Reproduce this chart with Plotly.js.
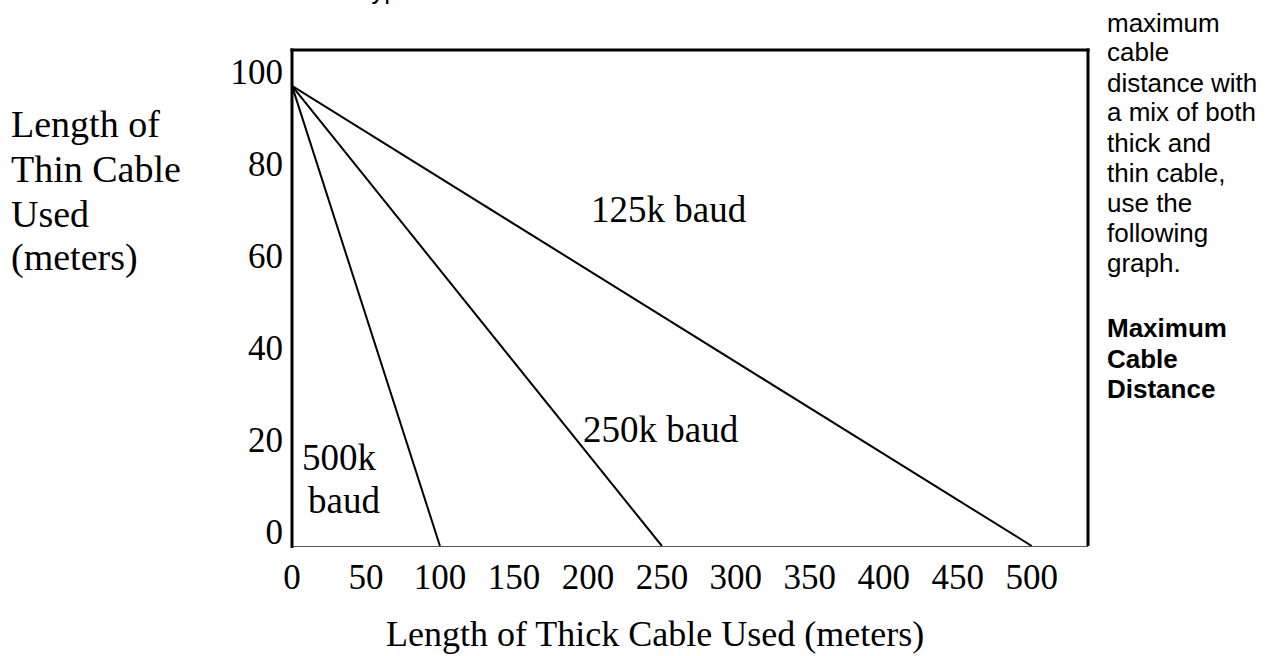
<!DOCTYPE html>
<html>
<head>
<meta charset="utf-8">
<script src="https://cdn.plot.ly/plotly-3.0.1.min.js"></script>
<style>
  html, body { margin: 0; padding: 0; background: #fff; }
  #chart { width: 1276px; height: 656px; }
</style>
</head>
<body>
<div id="chart"></div>
<script>
// ---- data ----
const baudRates = ['500k baud', '250k baud', '125k baud'];
const maxThickOnly = [100, 250, 500];   // thick cable length (m) when no thin cable is used
const maxThinOnly = [100, 100, 100];    // thin cable length (m) when no thick cable is used
const xTickValues = [0, 50, 100, 150, 200, 250, 300, 350, 400, 450, 500];
const yTickValues = [0, 20, 40, 60, 80, 100];
const yTitleLines = ['Length of', 'Thin Cable', 'Used', '(meters)'];
const xTitle = 'Length of Thick Cable Used (meters)';
const sideNoteLines = ['maximum', 'cable', 'distance with', 'a mix of both', 'thick and', 'thin cable,', 'use the', 'following', 'graph.'];
const sideHeadingLines = ['Maximum', 'Cable', 'Distance'];

// ---- layout geometry (pixels) ----
const W = 1276, H = 656;
const L = 292, R = 1088, T = 50, B = 546;
const PW = R - L, PH = B - T;
const px = x => (x - L) / PW;
const py = y => (B - y) / PH;

const serif = 'Liberation Serif, Times New Roman, serif';
const sans = 'Liberation Sans, Arial, sans-serif';

const traces = baudRates.map((name, i) => ({
  type: 'scatter',
  mode: 'lines',
  name: name,
  x: [0, maxThickOnly[i]],
  y: [maxThinOnly[i], 0],
  line: { color: '#000', width: 2 },
  hoverinfo: 'skip'
}));

const annotations = [];
function addText(text, xPix, centerYPix, font, anchor) {
  annotations.push({
    xref: 'paper', yref: 'paper',
    x: px(xPix), y: py(centerYPix),
    xanchor: anchor || 'left', yanchor: 'middle',
    text: text, showarrow: false, align: 'left',
    borderpad: 0, borderwidth: 0,
    font: font
  });
}
const titleFont = { family: serif, size: 38, color: '#000' };
const xTitleFont = { family: serif, size: 36, color: '#000' };
const labelFont = { family: serif, size: 37, color: '#000' };
const sansFont = { family: sans, size: 26, color: '#000' };

// left y title, one line each
const yTitleBaselines = [137, 182, 227, 270];
yTitleLines.forEach((t, i) => addText(t, 11, yTitleBaselines[i] - 13, titleFont));

// x title
addText(xTitle, 655, 646 - 12, xTitleFont, 'center');

// series labels
addText(baudRates[2], 591, 222 - 12.5, labelFont);
addText(baudRates[1], 583, 442 - 12.5, labelFont);
addText('500k', 302, 470 - 12.5, labelFont);
addText('baud', 308, 513 - 12.5, labelFont);

// side note text (Arial-like)
sideNoteLines.forEach((t, i) => addText(t, 1107, 31.5 + 30 * i - 9, sansFont));
sideHeadingLines.forEach((t, i) => addText('<b>' + t + '</b>', 1107, 337 + 30.5 * i - 9, sansFont));
// text clipped by the top edge (only its descenders are visible in the reference)
addText('type', 364, -10, sansFont);

const shapes = [
  { type: 'line', xref: 'paper', yref: 'paper', x0: 0, x1: 0, y0: -0.004, y1: 1.003, line: { color: '#000', width: 3 }, layer: 'above' },
  { type: 'line', xref: 'paper', yref: 'paper', x0: -0.002, x1: 1.002, y0: 1, y1: 1, line: { color: '#000', width: 3 }, layer: 'above' },
  { type: 'line', xref: 'paper', yref: 'paper', x0: 1, x1: 1, y0: 0, y1: 1.003, line: { color: '#000', width: 3 }, layer: 'above' }
];

const layout = {
  width: W, height: H,
  margin: { l: L, r: W - R, t: T, b: H - B, pad: 0 },
  paper_bgcolor: '#fff',
  plot_bgcolor: '#fff',
  showlegend: false,
  xaxis: {
    range: [0, 538],
    tickvals: xTickValues,
    ticktext: xTickValues.map(String),
    ticks: '',
    showgrid: false,
    zeroline: false,
    showline: true,
    linecolor: '#555',
    linewidth: 1,
    tickfont: { family: serif, size: 35, color: '#000' },
    ticklabelstandoff: 0,
    fixedrange: true
  },
  yaxis: {
    range: [0, 107.8],
    tickvals: yTickValues,
    ticktext: yTickValues.map(String),
    ticks: '',
    showgrid: false,
    zeroline: false,
    showline: false,
    tickfont: { family: serif, size: 35, color: '#000' },
    ticklabelstandoff: 8,
    ticklabelshift: -14,
    fixedrange: true
  },
  annotations: annotations,
  shapes: shapes
};

Plotly.newPlot('chart', traces, layout, { staticPlot: true, displayModeBar: false });
</script>
</body>
</html>
